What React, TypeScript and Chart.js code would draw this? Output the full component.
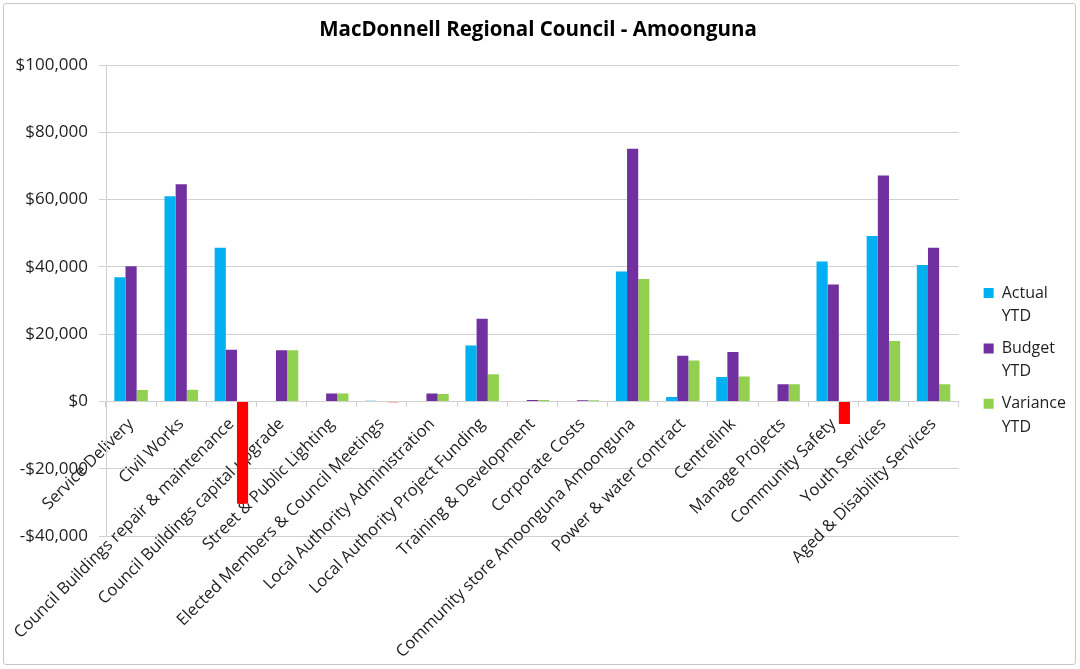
import React, { useEffect, useRef } from 'react';
import { Chart, registerables } from 'chart.js';

Chart.register(...registerables);

const chartTitle = 'MacDonnell Regional Council - Amoonguna';

const categories = [
  'Service Delivery',
  'Civil Works',
  'Council Buildings repair & maintenance',
  'Council Buildings capital upgrade',
  'Street & Public Lighting',
  'Elected Members & Council Meetings',
  'Local Authority Administration',
  'Local Authority Project Funding',
  'Training & Development',
  'Corporate Costs',
  'Community store Amoonguna Amoonguna',
  'Power & water contract',
  'Centrelink',
  'Manage Projects',
  'Community Safety',
  'Youth Services',
  'Aged & Disability Services',
];

const actualYTD = [36900, 61000, 45700, 0, 0, 200, 150, 16600, 0, 0, 38600, 1300, 7300, 0, 41600, 49200, 40600];
const budgetYTD = [40200, 64600, 15400, 15200, 2400, 0, 2400, 24600, 400, 350, 75100, 13600, 14700, 5150, 34800, 67200, 45700];
const varianceYTD = [3400, 3500, -30400, 15200, 2400, -200, 2250, 8100, 400, 350, 36400, 12200, 7400, 5150, -6700, 18000, 5100];

const seriesNames = ['Actual YTD', 'Budget YTD', 'Variance YTD'];
const seriesColors = ['#00B0F0', '#7030A0', '#92D050'];
const negativeColor = '#FF0000';

const yMin = -40000;
const yMax = 100000;
const yStep = 20000;

const FONT = '"Open Sans", "DejaVu Sans", sans-serif';

function formatMoney(v: number): string {
  const abs = Math.abs(v).toLocaleString('en-US');
  return v < 0 ? '-$' + abs : '$' + abs;
}

export default function App() {
  const canvasRef = useRef<HTMLCanvasElement | null>(null);

  useEffect(() => {
    const canvas = canvasRef.current;
    if (!canvas) return;
    const seriesValues = [actualYTD, budgetYTD, varianceYTD];
    const chart = new Chart(canvas, {
      type: 'bar',
      data: {
        labels: categories,
        datasets: seriesNames.map((name, i) => ({
          label: name,
          data: seriesValues[i],
          backgroundColor:
            i === 2
              ? seriesValues[i].map((v) => (v < 0 ? negativeColor : seriesColors[i]))
              : seriesColors[i],
          borderWidth: 0,
          categoryPercentage: 0.667,
          barPercentage: 1,
        })),
      },
      options: {
        animation: false,
        responsive: true,
        maintainAspectRatio: false,
        layout: { padding: { left: 0, right: 4, top: 0, bottom: 133 } },
        plugins: {
          title: {
            display: true,
            text: chartTitle,
            color: '#000',
            font: { family: FONT, size: 20.5, weight: 'bold', lineHeight: 1.2 },
            padding: { top: 18, bottom: 22.5 },
          },
          legend: {
            position: 'right',
            align: 'start',
            title: {
              display: true,
              text: '',
              font: { size: 10, lineHeight: 1 },
              padding: { top: 266, bottom: 0 },
            },
            labels: {
              boxWidth: 10,
              boxHeight: 10,
              padding: 9,
              color: '#1f1f1f',
              font: { family: FONT, size: 16, lineHeight: 1.45 },
              generateLabels: (c: any) =>
                c.data.datasets.map((ds: any, i: number) => ({
                  text: String(ds.label).split(' '),
                  fillStyle: seriesColors[i],
                  strokeStyle: seriesColors[i],
                  lineWidth: 0,
                  hidden: false,
                  datasetIndex: i,
                  fontColor: '#1f1f1f',
                })),
            },
          },
          tooltip: { enabled: false },
        },
        scales: {
          x: {
            position: { y: 0 } as any,
            grid: {
              offset: true,
              drawOnChartArea: false,
              drawTicks: true,
              tickLength: 5,
              color: '#d0d0d0',
            },
            border: { display: true, color: '#d0d0d0' },
            ticks: {
              autoSkip: false,
              maxRotation: 45,
              minRotation: 45,
              padding: 8,
              color: '#1f1f1f',
              font: { family: FONT, size: 16.5 },
            },
          },
          y: {
            min: yMin,
            max: yMax,
            afterFit: (s: any) => {
              s.width = 106;
            },
            ticks: {
              stepSize: yStep,
              padding: 11,
              color: '#1f1f1f',
              font: { family: FONT, size: 17 },
              callback: (v: any) => formatMoney(Number(v)),
            },
            grid: { color: '#d0d0d0', tickLength: 7 },
            border: { display: true, color: '#d0d0d0' },
          },
          y2: {
            position: 'right',
            min: yMin,
            max: yMax,
            display: true,
            afterFit: (s: any) => {
              s.width = 16;
            },
            ticks: { display: false },
            grid: { display: false },
            border: { display: false },
          },
        },
      },
    });
    return () => chart.destroy();
  }, []);

  return (
    <div style={{ position: 'fixed', left: 0, top: 0, width: 1080, height: 669, background: '#fff' }}>
      <canvas ref={canvasRef} />
      <div
        style={{
          position: 'absolute',
          left: 3,
          top: 3,
          width: 1071,
          height: 660,
          border: '1px solid #c8c8c8',
          borderRadius: 3,
          pointerEvents: 'none',
        }}
      />
    </div>
  );
}
